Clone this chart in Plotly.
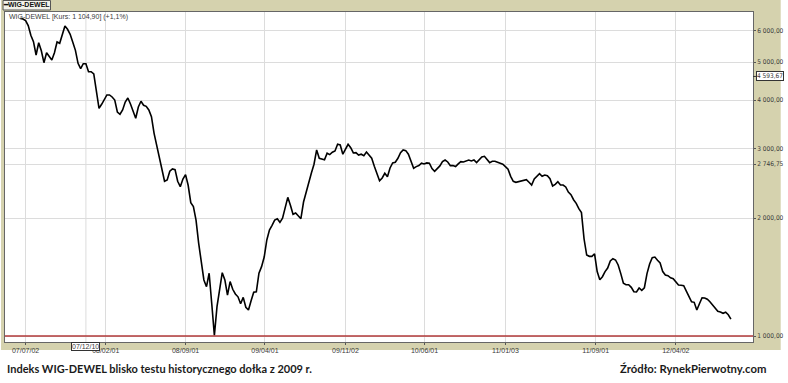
import math
import pandas as pd
import plotly.graph_objects as go

# Weekly closes of the WIG-DEWEL index
start_date = "2007-06-18"
values = [
    6460, 6437, 6375, 6190, 5850, 5634, 5210, 5600, 5343, 4980,
    5280, 5158, 5061, 5280, 5624, 5580, 5861, 6180, 6060, 5884,
    5614, 5355, 4962, 4808, 4951, 4951, 4724, 4724, 4661, 4260,
    3810, 3901, 4024, 4120, 4120, 4072, 4000, 3728, 3678, 3772,
    3953, 4048, 3908, 3744, 3593, 3839, 3970, 3878, 3855, 3772,
    3627, 3289, 3066, 2902, 2684, 2482, 2500, 2632, 2669, 2657,
    2482, 2404, 2515, 2580, 2424, 2188, 2138, 1976, 1725, 1548,
    1390, 1336, 1446, 1209, 1004, 1188, 1331, 1451, 1390, 1272,
    1377, 1316, 1280, 1259, 1209, 1255, 1184, 1165, 1230, 1293,
    1297, 1446, 1503, 1590, 1758, 1864, 1916, 1976, 1992, 1950,
    1997, 2134, 2258, 2155, 2044, 2060, 2028, 1992, 2197, 2340,
    2461, 2606, 2743, 2983, 2841, 2824, 2817, 2926, 2902, 2943,
    2965, 3084, 3071, 2909, 2988, 3084, 3023, 2931, 2936, 2895,
    2909, 2884, 2948, 2895, 2841, 2711, 2611, 2490, 2530, 2601,
    2550, 2684, 2764, 2775, 2841, 2936, 2983, 2971, 2909, 2775,
    2679, 2705, 2721, 2759, 2748, 2764, 2759, 2674, 2632, 2674,
    2716, 2785, 2812, 2780, 2721, 2721, 2705, 2748, 2785, 2780,
    2792, 2812, 2797, 2812, 2769, 2817, 2862, 2874, 2812, 2769,
    2792, 2792, 2775, 2759, 2743, 2705, 2664, 2555, 2482, 2467,
    2476, 2496, 2505, 2505, 2467, 2428, 2515, 2555, 2596, 2555,
    2575, 2564, 2520, 2414, 2437, 2476, 2428, 2428, 2400, 2330,
    2293, 2227, 2180, 2113, 2065, 1768, 1609, 1597, 1597, 1621,
    1460, 1392, 1417, 1460, 1491, 1554, 1575, 1563, 1518, 1443,
    1363, 1352, 1352, 1331, 1297, 1295, 1326, 1308, 1328, 1443,
    1527, 1584, 1590, 1560, 1536, 1460, 1431, 1425, 1408, 1400,
    1371, 1349, 1347, 1344, 1302, 1265, 1223, 1219, 1165, 1209,
    1252, 1250, 1241, 1223, 1202, 1174, 1156, 1152, 1143, 1150,
    1133, 1104.9,
]

x_tick_dates = ["2007-07-02", "2008-02-01", "2008-09-01", "2009-04-01", "2009-11-02",
                "2010-06-01", "2011-01-03", "2011-09-01", "2012-04-02"]
x_tick_labels = ["07/07/02", "08/02/01", "08/09/01", "09/04/01", "09/11/02",
                 "10/06/01", "11/01/03", "11/09/01", "12/04/02"]
cursor_date = "2007-12-10"
cursor_label = "07/12/10"

y_tick_vals = [1000, 2000, 2746.75, 3000, 4000, 5000, 6000]
y_tick_labels = ["1 000,00", "2 000,00", "2 746,75", "3 000,00", "4 000,00", "5 000,00", "6 000,00"]
cursor_value = 4593.67
cursor_value_label = "4 593,67"
support_level = 1000

series_name = "WIG-DEWEL"
legend_text = "WIG-DEWEL [Kurs: 1 104,90] (+1,1%)"
caption_left = "Indeks WIG-DEWEL blisko testu historycznego dołka z 2009 r."
caption_right = "Źródło: RynekPierwotny.com"

dates = pd.date_range(start_date, periods=len(values), freq="7D")

W, H = 788, 383
ML, MR, MT, MB = 4, 28, 12, 41
PW, PH = W - ML - MR, H - MT - MB

def px_x(p):
    return (p - ML) / PW

def px_y(p):
    return 1 - (p - MT) / PH

KHAKI = "#d5d2ae"
GRID = "#dcdcdc"
TXT = "#3a3a3a"
FONT = "Liberation Sans"
NARROW = "Liberation Sans Narrow, DejaVu Sans Condensed, Liberation Sans"

fig = go.Figure()
fig.add_trace(go.Scatter(x=dates, y=values, mode="lines", name=series_name,
                         line=dict(color="#000000", width=1.6), showlegend=False,
                         hoverinfo="x+y"))

shapes = [
    # khaki chart panel
    dict(type="rect", xref="paper", yref="paper", x0=px_x(0), x1=px_x(W), y0=px_y(350), y1=px_y(0),
         fillcolor=KHAKI, line=dict(width=0), layer="below"),
    # white plotting area
    dict(type="rect", xref="paper", yref="paper", x0=0, x1=1, y0=0, y1=1,
         fillcolor="#ffffff", line=dict(width=0), layer="below"),
    # tab at top-left
    dict(type="rect", xref="paper", yref="paper", x0=px_x(2), x1=px_x(50), y0=px_y(10), y1=px_y(0.5),
         fillcolor="#f2f2ea", line=dict(color="#555555", width=1), layer="above"),
    # cursor vertical line
    dict(type="line", xref="x", yref="paper", x0=cursor_date, x1=cursor_date, y0=0, y1=1,
         line=dict(color=GRID, width=1), layer="below"),
    # support level (historic low)
    dict(type="line", xref="paper", yref="y", x0=0, x1=1, y0=support_level, y1=support_level,
         line=dict(color="#b23a3a", width=1.6), layer="above"),
    # small tick for the cursor value label
    dict(type="line", xref="paper", yref="y", x0=1, x1=px_x(763), y0=cursor_value, y1=cursor_value,
         line=dict(color="#333333", width=1), layer="above"),
]

annotations = [
    dict(xref="paper", yref="paper", x=px_x(6), y=px_y(16.5), text=legend_text, showarrow=False,
         xanchor="left", yanchor="middle", font=dict(family=FONT, size=7, color=TXT)),
    dict(xref="paper", yref="paper", x=px_x(26), y=px_y(5), text="<b>━WIG-DEWEL</b>", showarrow=False,
         xanchor="center", yanchor="middle", font=dict(family=FONT, size=7, color="#111111")),
    dict(xref="paper", yref="y", x=px_x(763), y=math.log10(cursor_value), text=cursor_value_label,
         showarrow=False, xanchor="left", yanchor="middle", bgcolor="#ffffff", bordercolor="#333333",
         borderwidth=1, borderpad=0, font=dict(family=NARROW, size=6.5, color=TXT)),
    dict(xref="x", yref="paper", x=cursor_date, y=px_y(346), text=cursor_label, showarrow=False,
         xanchor="center", yanchor="middle", bgcolor="#ffffff", bordercolor="#333333",
         borderwidth=1, borderpad=0, font=dict(family=FONT, size=7, color=TXT)),
    dict(xref="paper", yref="paper", x=px_x(4), y=px_y(368), text="<b>" + caption_left + "</b>",
         showarrow=False, xanchor="left", yanchor="middle",
         font=dict(family="Lato", size=11, color="#1a1a1a")),
    dict(xref="paper", yref="paper", x=px_x(775), y=px_y(368), text="<b>" + caption_right + "</b>",
         showarrow=False, xanchor="right", yanchor="middle",
         font=dict(family="Lato", size=11.3, color="#1a1a1a")),
]

fig.update_layout(
    width=W, height=H,
    margin=dict(l=ML, r=MR, t=MT, b=MB, pad=0),
    paper_bgcolor="#ffffff",
    plot_bgcolor="rgba(0,0,0,0)",
    shapes=shapes,
    annotations=annotations,
    showlegend=False,
    xaxis=dict(
        type="date",
        range=["2007-05-08", "2012-10-25"],
        tickvals=x_tick_dates, ticktext=x_tick_labels,
        tickfont=dict(family=FONT, size=7, color=TXT),
        ticks="outside", ticklen=2, tickcolor="#555555",
        showgrid=True, gridcolor=GRID, gridwidth=1,
        showline=True, linecolor="#666666", linewidth=1, mirror=True,
        zeroline=False,
    ),
    yaxis=dict(
        type="log",
        range=[math.log10(965.6), math.log10(6707)],
        side="right",
        tickvals=y_tick_vals, ticktext=y_tick_labels,
        tickfont=dict(family=NARROW, size=6.5, color=TXT),
        ticks="outside", ticklen=2, tickcolor="#555555",
        showgrid=True, gridcolor=GRID, gridwidth=1,
        showline=True, linecolor="#666666", linewidth=1, mirror=True,
        zeroline=False,
    ),
)

fig.write_html(
    "out.html",
    config={"displayModeBar": False},
    post_script="document.body.style.margin='0';document.body.style.overflow='hidden';",
)
